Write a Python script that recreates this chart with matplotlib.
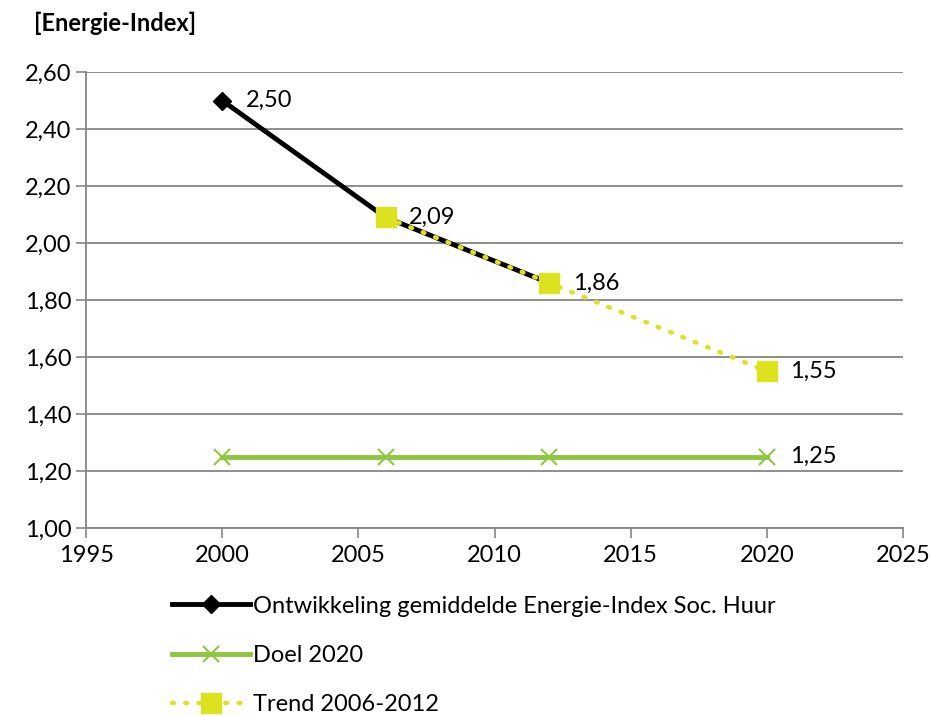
import numpy as np
import matplotlib.pyplot as plt
from matplotlib.ticker import FuncFormatter

plt.rcParams['font.family'] = ['Lato', 'DejaVu Sans']

# --- data ---
jaren_ontw = [2000, 2006, 2012]
ei_ontw = [2.50, 2.09, 1.86]

jaren_doel = [2000, 2006, 2012, 2020]
ei_doel = [1.25, 1.25, 1.25, 1.25]

jaren_trend = [2006, 2012, 2020]
ei_trend = [2.09, 1.86, 1.55]

lbl_ontw = 'Ontwikkeling gemiddelde Energie-Index Soc. Huur'
lbl_doel = 'Doel 2020'
lbl_trend = 'Trend 2006-2012'

zwart = '#000000'
groen = '#8DC63F'
geel = '#DDE21E'
grijs = '#868686'
fs = 17

fig = plt.figure(figsize=(9.31, 7.16), dpi=100)
ax = fig.add_axes([0.0924, 0.2626, 0.8776, 0.6368])

ax.plot(jaren_ontw, ei_ontw, color=zwart, lw=3.5, marker='D', ms=9,
        label=lbl_ontw, zorder=3)
ax.plot(jaren_doel, ei_doel, color=groen, lw=3.5, marker='x', ms=11,
        mew=1.5, label=lbl_doel, zorder=3)
ax.plot(jaren_trend, ei_trend, color=geel, lw=3.2, ls=(0, (0.4, 2.6)),
        dash_capstyle='round', marker='s', ms=14, label=lbl_trend, zorder=4)

# data labels
punten = [(jaren_ontw[0], ei_ontw[0])] + list(zip(jaren_trend, ei_trend)) + [(jaren_doel[-1], ei_doel[-1])]
for x, y in punten:
    ax.annotate(f'{y:.2f}'.replace('.', ','), (x, y), xytext=(17, 0),
                textcoords='offset points', va='center', ha='left', fontsize=fs)

ax.set_xlim(1995, 2025)
ax.set_ylim(1.0, 2.6)
ax.set_xticks(np.arange(1995, 2026, 5))
ax.set_yticks(np.arange(1.0, 2.61, 0.2))
ax.yaxis.set_major_formatter(FuncFormatter(lambda v, p: f'{v:.2f}'.replace('.', ',')))
ax.tick_params(labelsize=fs, color=grijs, length=7, width=1.2)
ax.tick_params(axis='x', pad=5)
ax.grid(axis='y', color=grijs, lw=1.3)
for s in ['top', 'right']:
    ax.spines[s].set_visible(False)
for s in ['left', 'bottom']:
    ax.spines[s].set_color(grijs)
    ax.spines[s].set_linewidth(1.3)
ax.set_axisbelow(True)

fig.text(0.036, 0.967, '[Energie-Index]', fontsize=fs, fontweight='bold', va='center')

fig.legend(loc='upper left', bbox_to_anchor=(0.185, 0.168), frameon=False,
           fontsize=fs, handlelength=3.3, labelspacing=1.2, handletextpad=0.1,
           borderaxespad=0, borderpad=0)

plt.savefig('out.png', dpi=100)
